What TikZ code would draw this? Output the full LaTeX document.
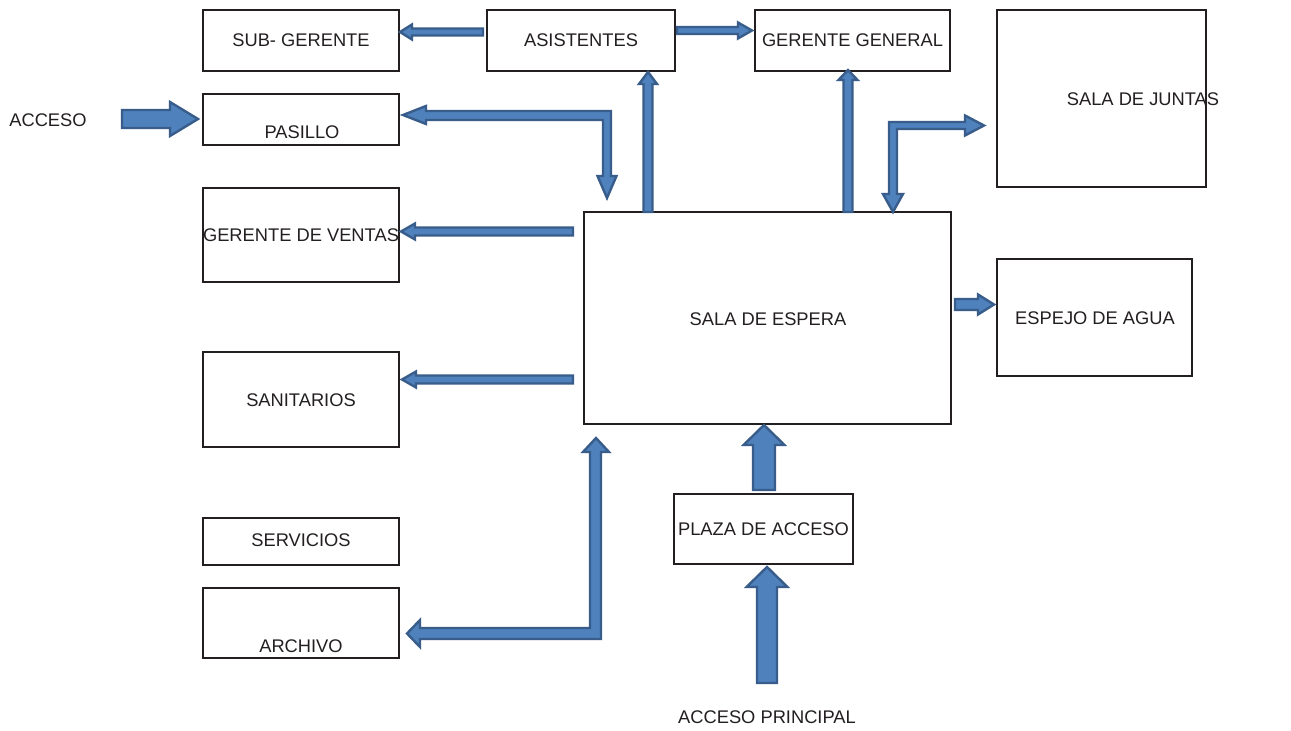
\documentclass[tikz,border=0pt]{standalone}
\usepackage{fontspec}
\setmainfont{Liberation Sans}
\definecolor{afill}{RGB}{79,129,189}
\definecolor{aedge}{RGB}{56,93,138}
\definecolor{txtc}{RGB}{35,31,32}
\tikzset{
  box/.style={draw=txtc, line width=2.5pt, inner sep=0pt, outer sep=0pt, fill=white},
  txt/.style={inner sep=0pt, text=txtc, font=\fontsize{18.3}{20}\selectfont},
  barrow/.style={fill=afill, draw=aedge, line width=2.4pt, line join=miter}
}
% horizontal block arrow: y, x tail, x tip, shaft half width, head half width, head length
\newcommand\hbarrow[6]{%
  \pgfmathsetmacro\dir{sign(#3-#2)}%
  \pgfmathsetmacro\hb{#3-\dir*#6}%
  \draw[barrow] (#2,#1-#4) -- (\hb,#1-#4) -- (\hb,#1-#5) -- (#3,#1) -- (\hb,#1+#5) -- (\hb,#1+#4) -- (#2,#1+#4) -- cycle;}
% vertical block arrow: x, y tail, y tip, shaft half width, head half width, head length
\newcommand\vbarrow[6]{%
  \pgfmathsetmacro\dir{sign(#3-#2)}%
  \pgfmathsetmacro\hb{#3-\dir*#6}%
  \draw[barrow] (#1-#4,#2) -- (#1-#4,\hb) -- (#1-#5,\hb) -- (#1,#3) -- (#1+#5,\hb) -- (#1+#4,\hb) -- (#1+#4,#2) -- cycle;}
\begin{document}
\begin{tikzpicture}[x=1pt, y={(0pt,-1pt)}]
\useasboundingbox[fill=white] (0,0) rectangle (1291,731);

% boxes
\node[box, minimum width=196, minimum height=61] (sub) at (301,40.5) {};
\node[txt] at (sub.center) {SUB- GERENTE};
\node[box, minimum width=188, minimum height=61] (asis) at (581,40.5) {};
\node[txt] at (asis.center) {ASISTENTES};
\node[box, minimum width=195, minimum height=61] (gg) at (852.5,40.5) {};
\node[txt] at (gg.center) {GERENTE GENERAL};
\node[box, minimum width=209, minimum height=177] (juntas) at (1101.5,98.5) {};
\node[txt] at (1143,99) {SALA DE JUNTAS};
\node[box, minimum width=196, minimum height=51] (pas) at (301,119.5) {};
\node[txt] at (302,132) {PASILLO};
\node[box, minimum width=196, minimum height=94] (ventas) at (301,235) {};
\node[txt] at (301,235) {GERENTE DE VENTAS};
\node[box, minimum width=367, minimum height=212] (espera) at (767.5,318) {};
\node[txt] at (768,319) {SALA DE ESPERA};
\node[box, minimum width=195, minimum height=117] (espejo) at (1094.5,317.5) {};
\node[txt] at (1095,318) {ESPEJO DE AGUA};
\node[box, minimum width=196, minimum height=95] (sanit) at (301,399.5) {};
\node[txt] at (301,400) {SANITARIOS};
\node[box, minimum width=196, minimum height=47] (serv) at (301,541.5) {};
\node[txt] at (301,540) {SERVICIOS};
\node[box, minimum width=196, minimum height=70] (arch) at (301,623) {};
\node[txt] at (301,646) {ARCHIVO};
\node[box, minimum width=179, minimum height=70] (plaza) at (763.5,529) {};
\node[txt] at (plaza.center) {PLAZA DE ACCESO};
\node[txt] (acceso) at (48,120) {ACCESO};
\node[txt] (accp) at (767,717) {ACCESO PRINCIPAL};

% straight arrows
\hbarrow{32}{483}{400}{3.5}{7.5}{12}
\hbarrow{30.5}{677}{752}{3.5}{8}{14}
\vbarrow{648}{212}{72}{4.5}{9}{12}
\vbarrow{848}{212}{70}{4.5}{9.5}{10}
\hbarrow{231.5}{573}{401}{4}{8}{14}
\hbarrow{379.5}{573}{402}{4}{8}{14}
\hbarrow{304.5}{955}{994}{5.5}{10}{16}
\vbarrow{764}{490}{425}{11}{20.5}{20}
\vbarrow{767}{683}{567}{10}{20.5}{20}
\hbarrow{119}{122}{198}{9}{17}{28}

% bent arrows
\draw[barrow] (403,115) -- (426,106) -- (426,111) -- (611,111) -- (611,176) -- (616.5,176) -- (607,198) -- (597.5,176) -- (603,176) -- (603,120) -- (426,120) -- (426,124) -- cycle;
\draw[barrow] (893,212) -- (883,194) -- (889,194) -- (889,122) -- (965,122) -- (965,115.5) -- (984,125.5) -- (965,135.5) -- (965,129) -- (897,129) -- (897,194) -- (903,194) -- cycle;
\draw[barrow] (596,438) -- (609,452) -- (601,452) -- (601,639) -- (420,639) -- (420,647) -- (407,633.5) -- (420,620) -- (420,628) -- (590,628) -- (590,452) -- (583,452) -- cycle;
\end{tikzpicture}
\end{document}
